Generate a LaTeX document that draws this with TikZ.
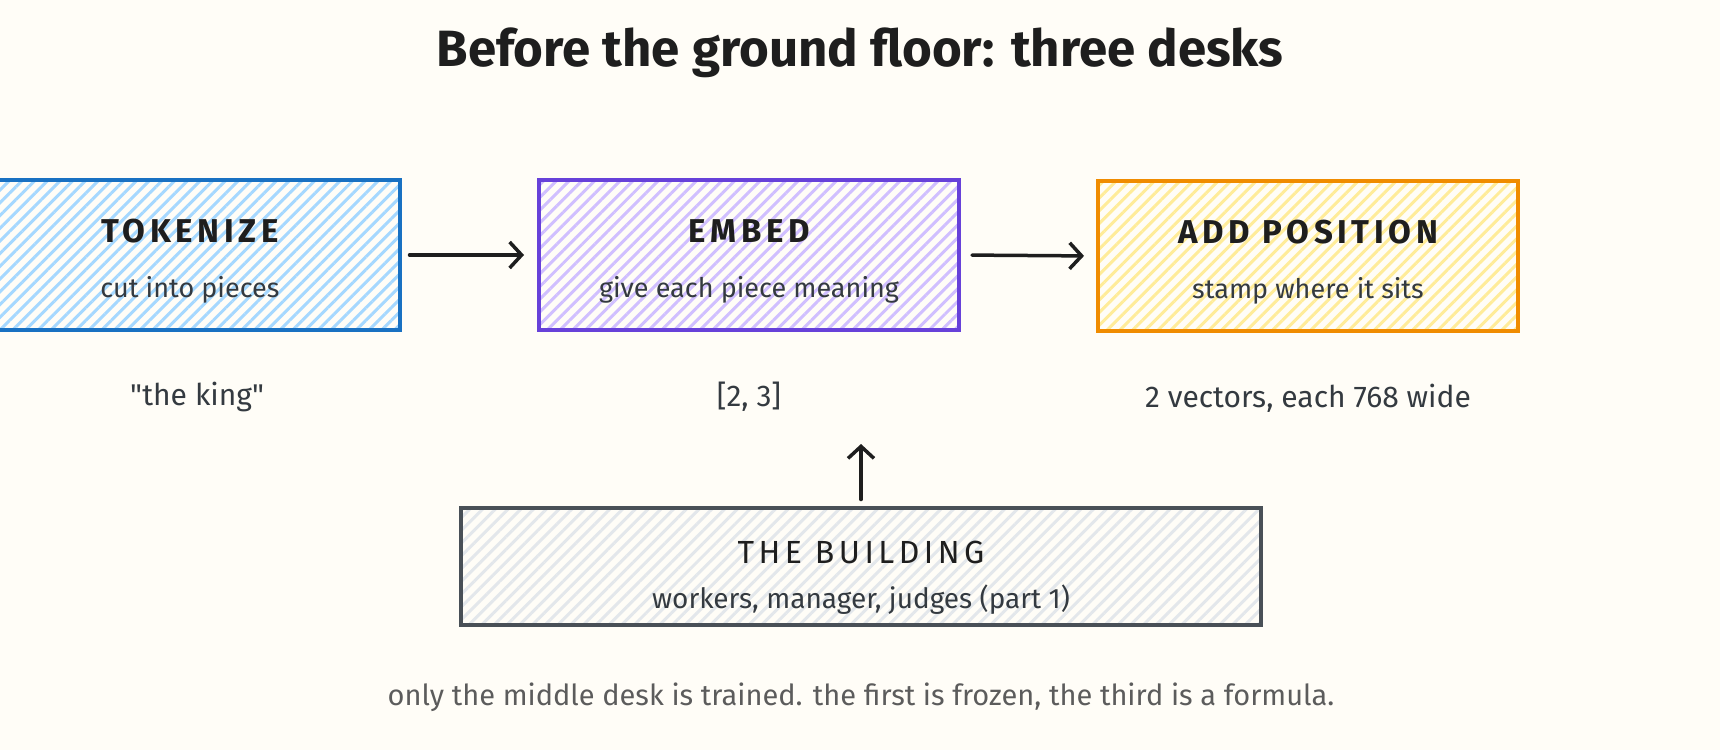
\documentclass[tikz,border=0pt]{standalone}
\usepackage{fontspec}
\setmainfont{Fira Sans}
\newfontfamily\spaced[LetterSpace=14]{Fira Sans}
\newfontfamily\plainq[Ligatures=TeXOff]{Fira Sans}
\usepackage{xcolor}
\usepackage{tikz}
\usetikzlibrary{arrows.meta,patterns.meta}

\definecolor{paper}{HTML}{FFFDF7}
\definecolor{ink}{HTML}{1E1E1E}
\definecolor{soft}{HTML}{343A40}
\definecolor{note}{HTML}{5C5C5C}
\definecolor{tokline}{HTML}{1971C2}
\definecolor{tokfill}{HTML}{A5D8FF}
\definecolor{embline}{HTML}{6741D9}
\definecolor{embfill}{HTML}{D0BFFF}
\definecolor{posline}{HTML}{F08C00}
\definecolor{posfill}{HTML}{FFEC99}
\definecolor{bldline}{HTML}{495057}
\definecolor{bldfill}{HTML}{E3E7EB}

\tikzset{
  desk/.style n args={2}{draw=#1,line width=4pt,
    pattern={Lines[angle=45,distance=9pt,line width=3pt]},pattern color=#2,
    minimum width=420pt,minimum height=150pt,inner sep=0pt},
  deskhead/.style={text=ink,font=\fontsize{33}{37}\spaced\bfseries},
  desksub/.style={text=soft,font=\fontsize{27}{31}\selectfont},
  under/.style={text=soft,font=\fontsize{30}{34}\selectfont},
  flow/.style={->,draw=ink,line width=3.5pt,line cap=round},
}

\begin{document}
\begin{tikzpicture}[x=1pt,y=-1pt,>={Straight Barb[length=12pt,width=26pt]}]
\useasboundingbox (0,0) rectangle (1720,750);
\fill[paper] (0,0) rectangle (1720,750);

\node[text=ink,font=\fontsize{51}{58}\selectfont\bfseries] (title) at (860,53) {Before the ground floor: three desks};

% the three desks
\node[desk={tokline}{tokfill}] (tok) at (190,255) {};
\node[deskhead] (tokH) at ([yshift=24pt]tok.center) {TOKENIZE};
\node[desksub] (tokS) at ([yshift=-35pt]tok.center) {cut into pieces};

\node[desk={embline}{embfill}] (emb) at (749,255) {};
\node[deskhead] (embH) at ([yshift=24pt]emb.center) {EMBED};
\node[desksub] (embS) at ([yshift=-35pt]emb.center) {give each piece meaning};

\node[desk={posline}{posfill}] (pos) at (1308,256) {};
\node[deskhead] (posH) at ([yshift=24pt]pos.center) {ADD POSITION};
\node[desksub] (posS) at ([yshift=-35pt]pos.center) {stamp where it sits};

\draw[flow,shorten <=8pt,shorten >=13pt] (tok.east) -- (emb.west);
\draw[flow,shorten <=11pt,shorten >=12pt] (emb.east) -- (pos.west);

% what comes out of each desk
\node[under,font=\fontsize{30}{34}\plainq] (tokO) at (197,397) {"the king"};
\node[under] (embO) at (749,397) {[2, 3]};
\node[under] (posO) at (1308,398) {2 vectors, each 768 wide};

% the building underneath
\node[desk={bldline}{bldfill},minimum width=800pt,minimum height=117pt] (bld) at (861,566) {};
\node[text=ink,font=\fontsize{32}{36}\spaced] (bldH) at ([yshift=14pt]bld.center) {THE BUILDING};
\node[desksub,font=\fontsize{28}{32}\selectfont] (bldS) at ([yshift=-34pt]bld.center) {workers, manager, judges (part 1)};
\coordinate (up) at (861,444);
\draw[flow,shorten <=6pt] (bld.north) -- (up);

\node[text=note,font=\fontsize{29}{33}\selectfont] (foot) at (861,697) {only the middle desk is trained. the first is frozen, the third is a formula.};
\end{tikzpicture}
\end{document}
